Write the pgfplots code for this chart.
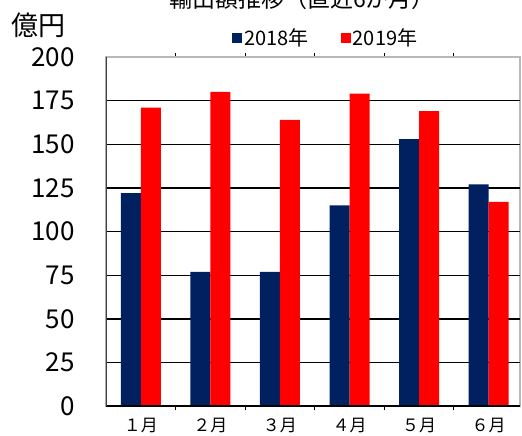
\documentclass[border=0pt]{standalone}
\usepackage{pgfplots}
\pgfplotsset{compat=1.18}
\usepackage{fontspec}
\setmainfont{Noto Sans CJK JP}
\definecolor{navy}{RGB}{0,32,96}
\definecolor{myred}{RGB}{255,0,0}
\begin{document}
\begin{tikzpicture}
\begin{scope}
\clip (0pt,0pt) rectangle (522pt,436pt);
\node[anchor=base, font=\fontsize{23pt}{26pt}\selectfont, inner sep=0pt] at (302pt,428pt) {輸出額推移（直近6か月）};
\node[font=\fontsize{27pt}{30pt}\selectfont, inner sep=0pt] at (38.5pt,410.5pt) {億円};
\begin{axis}[
  at={(106pt,29.7pt)}, anchor=south west,
  scale only axis, width=414pt, height=349.3pt,
  xmin=-0.5, xmax=5.45, ymin=0, ymax=200,
  ybar=0pt, bar width=20pt,
  xtick={0,1,2,3,4,5},
  xticklabels={１月,２月,３月,４月,５月,６月},
  minor xtick={0.5,1.5,2.5,3.5,4.5},
  ytick={0,25,50,75,100,125,150,175,200},
  major tick length=0pt,
  minor tick length=4pt,
  minor tick style={black, line width=1pt},
  extra y ticks={25,50,75,100,125,150,175},
  extra y tick labels={},
  extra y tick style={grid=major, major grid style={black, line width=1.6pt}},
  axis line style={draw=gray!55, line width=1.5pt},
  /pgf/number format/assume math mode=true,
  yticklabel style={font=\fontsize{26pt}{28pt}\selectfont, xshift=-28pt},
  xticklabel style={font=\fontsize{17pt}{19pt}\selectfont, yshift=-8pt},
  legend columns=2,
  legend style={at={(0.531,1.054)}, anchor=center, draw=none, fill=none,
    font=\fontsize{20pt}{22pt}\selectfont,
    nodes={inner sep=2pt},
    /tikz/every even column/.append style={column sep=30pt}},
  legend image code/.code={\fill[#1] (0pt,-5pt) rectangle (10pt,5pt);},
]
\addplot[fill=navy, draw=none] coordinates {(0,122) (1,77) (2,77) (3,115) (4,153) (5,127)};
\addplot[fill=myred, draw=none] coordinates {(0,171) (1,180) (2,164) (3,179) (4,169) (5,117)};
\legend{2018年,2019年}
\draw[black, line width=2pt] (rel axis cs:0,0) -- (rel axis cs:1,0);
\draw[black!75, line width=1.8pt] (rel axis cs:0,0) -- (rel axis cs:0,1);
\end{axis}
\end{scope}
\pgfresetboundingbox
\useasboundingbox (0pt,0pt) rectangle (522pt,436pt);
\end{tikzpicture}
\end{document}
